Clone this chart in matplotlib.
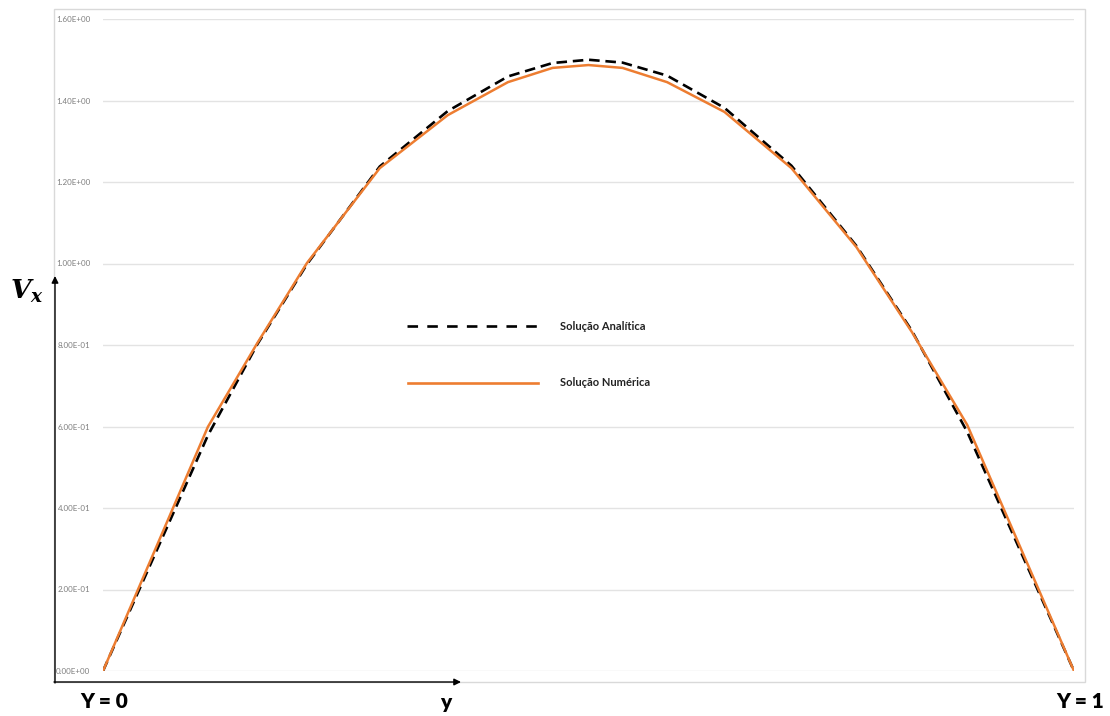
import matplotlib
matplotlib.use("Agg")
import matplotlib.pyplot as plt
from matplotlib.lines import Line2D
from matplotlib.patches import Rectangle, FancyArrowPatch

# grid positions (kinks of both curves)
y_pts = [0.000, 0.108, 0.159, 0.210, 0.285, 0.355, 0.417, 0.463, 0.500,
         0.535, 0.581, 0.640, 0.709, 0.776, 0.833, 0.890, 1.000]

# analytic solution
vx_ana = [0.000, 0.578, 0.802, 0.998, 1.238, 1.374, 1.459, 1.492, 1.500,
          1.493, 1.461, 1.382, 1.240, 1.043, 0.835, 0.587, 0.000]

# numerical solution
vx_num = [0.000, 0.599, 0.805, 1.001, 1.234, 1.364, 1.445, 1.480, 1.487,
          1.480, 1.445, 1.372, 1.234, 1.040, 0.832, 0.604, 0.000]

yticks = [0.0, 0.2, 0.4, 0.6, 0.8, 1.0, 1.2, 1.4, 1.6]

W, H = 1110, 716
ORANGE = "#ED7D31"

plt.rcParams["font.family"] = ["Lato", "DejaVu Sans"]
plt.rcParams["mathtext.fontset"] = "custom"
plt.rcParams["mathtext.it"] = "DejaVu Serif:italic:bold"
plt.rcParams["mathtext.rm"] = "DejaVu Serif:bold"


def px(x, y):
    return x / W, 1 - y / H


fig = plt.figure(figsize=(W / 100, H / 100), dpi=100)
fig.patch.set_facecolor("white")

# chart area border
fig.add_artist(Rectangle(px(54, 682), (1085 - 54) / W, (682 - 9) / H,
                         transform=fig.transFigure, fill=False,
                         edgecolor="#d9d9d9", lw=1.0))

left, right = 103, 1074
bottom, top = 671, 19
ax = fig.add_axes([left / W, 1 - bottom / H, (right - left) / W, (bottom - top) / H])
ax.set_xlim(0, 1)
ax.set_ylim(0, 1.6)
for s in ax.spines.values():
    s.set_visible(False)
ax.set_xticks([])
ax.set_yticks(yticks)
ax.set_yticklabels([f"{v:.2E}" for v in yticks], fontsize=5.8, color="#7f7f7f")
ax.tick_params(axis="y", length=0, pad=9)
ax.grid(axis="y", color="#e3e3e3", lw=1.0)
ax.set_axisbelow(True)

ax.plot(y_pts, vx_ana, color="black", lw=1.9, linestyle=(0, (4, 2.2)), zorder=2)
ax.plot(y_pts, vx_num, color=ORANGE, lw=1.8, zorder=3)

# legend drawn by hand
x0, y0 = px(407, 326)
x1, _ = px(537, 326)
fig.add_artist(Line2D([x0, x1], [y0, y0], transform=fig.transFigure,
                      color="black", lw=1.9, linestyle=(0, (4, 3.5))))
fig.text(*px(560, 326), "Solução Analítica", fontsize=8, fontweight="bold",
         va="center", ha="left", color="#222222")
x0, y0 = px(408, 383)
x1, _ = px(538, 383)
fig.add_artist(Line2D([x0, x1], [y0, y0], transform=fig.transFigure,
                      color=ORANGE, lw=1.9))
fig.text(*px(560, 383), "Solução Numérica", fontsize=8, fontweight="bold",
         va="center", ha="left", color="#222222")

# axis arrows
fig.add_artist(FancyArrowPatch(px(55, 683), px(55, 276), transform=fig.transFigure,
                               arrowstyle="-|>,head_length=4,head_width=2",
                               color="black", lw=1.0, shrinkA=0, shrinkB=0))
fig.add_artist(FancyArrowPatch(px(54, 682), px(461, 682), transform=fig.transFigure,
                               arrowstyle="-|>,head_length=4,head_width=2",
                               color="black", lw=1.0, shrinkA=0, shrinkB=0))

fig.text(*px(27, 291), r"$V_x$", fontsize=19, ha="center", va="center")
fig.text(*px(104, 702), "Y = 0", fontsize=15, fontweight="heavy", ha="center", va="center")
fig.text(*px(446, 702), "y", fontsize=15, fontweight="heavy", ha="center", va="center")
fig.text(*px(1080, 701), "Y = 1", fontsize=15, fontweight="heavy", ha="center", va="center")

fig.savefig("out.png", dpi=100, facecolor="white")
